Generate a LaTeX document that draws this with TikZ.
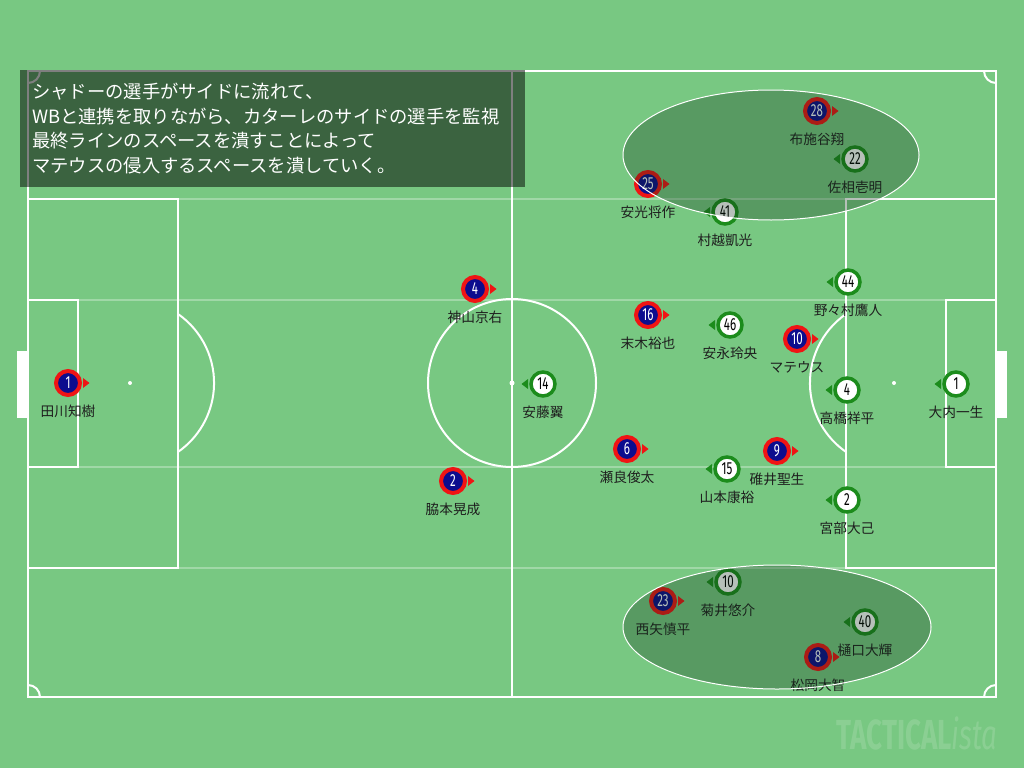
\documentclass[tikz,border=0pt]{standalone}
\usepackage{fontspec}
\newfontfamily\jp{Noto Sans CJK JP}
\newfontfamily\numf{Fira Sans}[FakeStretch=0.66]
\definecolor{bg}{HTML}{78C882}
\definecolor{navy}{HTML}{0C0C8E}
\definecolor{rr}{HTML}{F01414}
\definecolor{gg}{HTML}{1C8C1C}
\definecolor{ink}{HTML}{1E1E1E}
\definecolor{zonec}{HTML}{10301A}
\tikzset{
  pline/.style={white, line width=2pt},
  faint/.style={white, opacity=0.3, line width=1.5pt},
  redc/.style={circle, draw=rr, line width=4pt, fill=navy, minimum size=24pt, inner sep=0pt, text=white, font=\numf\fontsize{17.5}{17.5}\selectfont},
  grnc/.style={circle, draw=gg, line width=3.5pt, fill=white, minimum size=24pt, inner sep=0pt, text=black, font=\numf\fontsize{17.5}{17.5}\selectfont},
  lab/.style={font=\jp\fontsize{13.7}{14}\selectfont, text=ink, inner sep=0pt},
  boxtxt/.style={font=\jp\fontsize{18.3}{18.3}\selectfont, text=white, inner sep=0pt, anchor=base west},
  zone/.style={fill=zonec, fill opacity=0.3, draw=white, line width=1pt},
}
\newcommand\rpl[4]{%
  \node[redc] (r#1) at (#2) {#3};
  \fill[rr] ([shift={(15,-5)}]r#1.center) -- ++(6.5,5) -- ++(-6.5,5) -- cycle;
  \node[lab] (r#1n) at ([yshift=-28.5pt]r#1.center) {#4};
}
\newcommand\gpl[4]{%
  \node[grnc] (g#1) at (#2) {#3};
  \fill[gg] ([shift={(-15,-5)}]g#1.center) -- ++(-6.5,5) -- ++(6.5,5) -- cycle;
  \node[lab] (g#1n) at ([yshift=-28.5pt]g#1.center) {#4};
}
\begin{document}
\begin{tikzpicture}[x=1pt,y=-1pt]
\useasboundingbox (0,0) rectangle (1024,768);
\fill[bg] (0,0) rectangle (1024,768);
% faint lines
\foreach \yy in {199,300,467,568} \draw[faint] (28,\yy) -- (996,\yy);
% pitch
\draw[pline] (28,71) rectangle (996,697);
\draw[pline] (512,71) -- (512,697);
\draw[pline] (512,383) circle[radius=84pt];
\fill[white] (512,383) circle[radius=2.5pt];
\draw[pline] (28,199) rectangle (178,568);
\draw[pline] (28,300) rectangle (78,467);
\draw[pline] (996,199) rectangle (846,568);
\draw[pline] (996,300) rectangle (946,467);
\fill[white] (130,383) circle[radius=2pt];
\fill[white] (894,383) circle[radius=2pt];
\draw[pline] (178,314) arc[start angle=55.2, end angle=-55.2, radius=84pt];
\draw[pline] (846,314) arc[start angle=124.8, end angle=235.2, radius=84pt];
\draw[pline] (40,71) arc[start angle=0, end angle=-90, radius=12pt];
\draw[pline] (984,71) arc[start angle=180, end angle=270, radius=12pt];
\draw[pline] (40,697) arc[start angle=0, end angle=90, radius=12pt];
\draw[pline] (984,697) arc[start angle=180, end angle=90, radius=12pt];
\fill[white] (17,351) rectangle (28,418);
\fill[white] (996,351) rectangle (1007,418);
% red players
\rpl{1}{68,383}{1}{田川知樹}
\rpl{4}{475,289}{4}{神山京右}
\rpl{2}{453,481}{2}{脇本晃成}
\rpl{16}{648,315}{16}{末木裕也}
\rpl{6}{627,449}{6}{瀬良俊太}
\rpl{25}{648,184}{25}{安光将作}
\rpl{28}{817,111}{28}{布施谷翔}
\rpl{10}{797,339}{10}{マテウス}
\rpl{9}{777,451}{9}{碓井聖生}
\rpl{23}{663,601}{23}{西矢慎平}
\rpl{8}{818,657}{8}{松岡大智}
% green players
\gpl{41}{725,212}{41}{村越凱光}
\gpl{22}{855,159}{22}{佐相壱明}
\gpl{44}{848,282}{44}{野々村鷹人}
\gpl{46}{730,325}{46}{安永玲央}
\gpl{14}{543,384}{14}{安藤翼}
\gpl{4}{847,390}{4}{高橋祥平}
\gpl{1}{956,384}{1}{大内一生}
\gpl{15}{727,469}{15}{山本康裕}
\gpl{2}{847,500}{2}{宮部大己}
\gpl{10}{728,582}{10}{菊井悠介}
\gpl{40}{865,622}{40}{樋口大輝}
% zones
\draw[zone] (771,155) ellipse[x radius=148pt, y radius=65pt];
\draw[zone] (777,627) ellipse[x radius=154pt, y radius=62pt];
% text box
\fill[black, opacity=0.5] (20,70) rectangle (525,187);
\node[boxtxt] (t1) at (32,98.5) {シャドーの選手がサイドに流れて、};
\node[boxtxt] (t2) at (32,123.2) {WBと連携を取りながら、カターレのサイドの選手を監視};
\node[boxtxt] (t3) at (32,147.9) {最終ラインのスペースを潰すことによって};
\node[boxtxt] (t4) at (32,172.6) {マテウスの侵入するスペースを潰していく。};
% watermark
\node[text=white, text opacity=0.14, inner sep=0pt] (wm) at (917,733)
  {\numf\fontsize{42}{42}\selectfont\bfseries TACTICAL\mdseries\itshape ista};
\end{tikzpicture}
\end{document}
